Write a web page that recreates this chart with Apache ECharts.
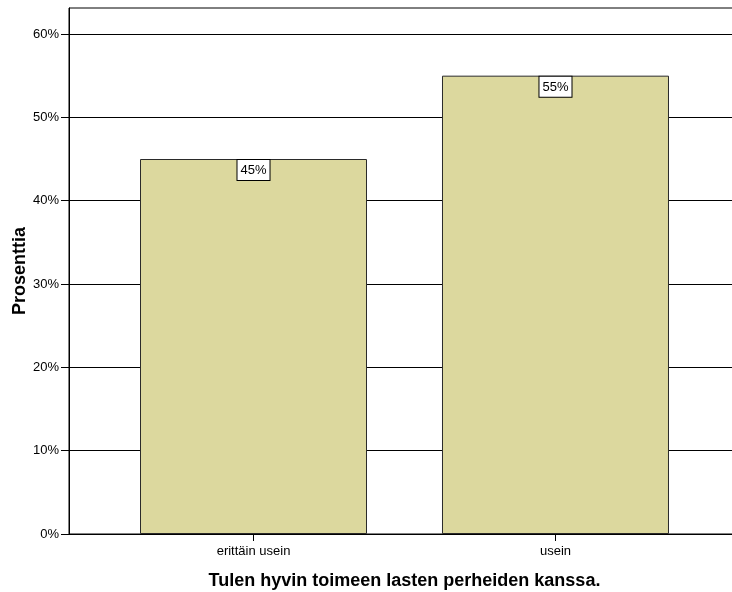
<!DOCTYPE html>
<html>
<head>
<meta charset="utf-8">
<script src="https://cdn.jsdelivr.net/npm/echarts@6/dist/echarts.min.js"></script>
<style>
  html, body { margin: 0; padding: 0; background: #fff; }
  #chart { width: 732px; height: 592px; }
</style>
</head>
<body>
<div id="chart"></div>
<script>
// Answer categories and their shares (%)
const categories = ['erittäin usein', 'usein'];
const percents = [45, 55];
const yTicks = [0, 10, 20, 30, 40, 50, 60];
const xTitle = 'Tulen hyvin toimeen lasten perheiden kanssa.';
const yTitle = 'Prosenttia';

const FONT = '"Liberation Sans", Arial, sans-serif';
const chart = echarts.init(document.getElementById('chart'), null, { renderer: 'canvas' });

// bars sit at positions 1..n on a value axis so the plot can extend past the bars
const barData = percents.map((v, i) => [i + 1, v]);
const catPos = categories.map((c, i) => i + 1);

chart.setOption({
  animation: false,
  backgroundColor: '#ffffff',
  grid: {
    left: 69, top: 8, width: 671, height: 526,
    outerBoundsMode: 'none',
    containLabel: false,
    show: true, borderColor: '#000', borderWidth: 1, backgroundColor: 'transparent'
  },
  xAxis: {
    type: 'value',
    min: 0.389, max: 2.611,
    name: xTitle,
    nameLocation: 'middle',
    nameGap: 38,
    nameMoveOverlap: false,
    nameTextStyle: { fontFamily: FONT, fontSize: 18, fontWeight: 'bold', color: '#000' },
    axisLine: { show: true, lineStyle: { color: '#000', width: 1 } },
    axisTick: { show: true, length: 7, customValues: catPos, lineStyle: { color: '#000' } },
    axisLabel: {
      customValues: catPos,
      formatter: v => categories[Math.round(v) - 1] || '',
      fontFamily: FONT, fontSize: 13, color: '#000', margin: 11
    },
    splitLine: { show: false }
  },
  yAxis: {
    type: 'value',
    min: 0, max: 63.12,
    name: yTitle,
    nameLocation: 'middle',
    nameGap: 40,
    nameMoveOverlap: false,
    nameTextStyle: { fontFamily: FONT, fontSize: 18, fontWeight: 'bold', color: '#000' },
    axisLine: { show: true, lineStyle: { color: '#000', width: 1 } },
    axisTick: { show: true, length: 8, customValues: yTicks, lineStyle: { color: '#000' } },
    axisLabel: {
      customValues: yTicks,
      formatter: '{value}%',
      fontFamily: FONT, fontSize: 13, color: '#000', margin: 10
    },
    splitLine: { show: true, lineStyle: { color: '#000', width: 1 } }
  },
  series: [{
    type: 'bar',
    data: barData,
    barWidth: 227,
    itemStyle: { color: '#dcd89e', borderColor: '#2a2a2a', borderWidth: 1 },
    label: {
      show: true,
      position: 'insideTop',
      distance: 1,
      formatter: p => p.value[1] + '%',
      fontFamily: FONT, fontSize: 13, color: '#000',
      backgroundColor: '#fff',
      borderColor: '#000', borderWidth: 1,
      padding: [4, 3, 3, 3]
    }
  }]
});
</script>
</body>
</html>
